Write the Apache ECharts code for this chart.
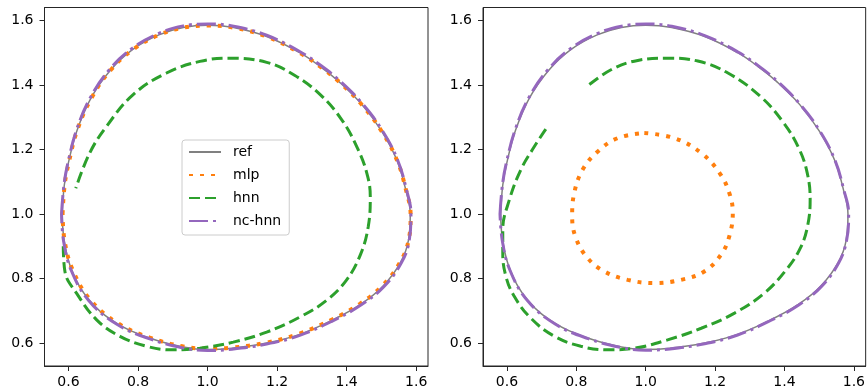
<!DOCTYPE html>
<html>
<head>
<meta charset="utf-8">
<script src="https://cdn.jsdelivr.net/npm/echarts@6/dist/echarts.min.js"></script>
<style>
  html, body { margin: 0; padding: 0; background: #fff; }
  #chart { width: 868px; height: 390px; }
</style>
</head>
<body>
<div id="chart"></div>
<script>
// tick labels shared by both panels
const xTicks = [0.6, 0.8, 1.0, 1.2, 1.4, 1.6];
const yTicks = [0.6, 0.8, 1.0, 1.2, 1.4, 1.6];

// reference orbit (same in both panels)
const refCurve = [
  [0.582, 1.00], [0.588, 1.09], [0.600, 1.16], [0.625, 1.26], [0.665, 1.36], [0.720, 1.445],
  [0.785, 1.51], [0.860, 1.555], [0.930, 1.578], [1.000, 1.585], [1.075, 1.578], [1.170, 1.55],
  [1.265, 1.50], [1.324, 1.457], [1.377, 1.411], [1.444, 1.339], [1.501, 1.256], [1.544, 1.168],
  [1.570, 1.075], [1.583, 1.00], [1.578, 0.92], [1.555, 0.85], [1.505, 0.777], [1.440, 0.72],
  [1.360, 0.672], [1.265, 0.627], [1.170, 0.600], [1.070, 0.584], [1.000, 0.580], [0.930, 0.588],
  [0.835, 0.615], [0.740, 0.66], [0.660, 0.733], [0.610, 0.825], [0.588, 0.915], [0.582, 1.00]
];

// left panel
const mlpLeft = [
  [0.583, 1.00], [0.589, 1.09], [0.601, 1.16], [0.626, 1.262], [0.667, 1.361], [0.722, 1.447],
  [0.787, 1.511], [0.862, 1.556], [0.932, 1.578], [1.003, 1.584], [1.077, 1.577], [1.172, 1.549],
  [1.267, 1.498], [1.326, 1.455], [1.379, 1.409], [1.445, 1.337], [1.502, 1.254], [1.545, 1.166],
  [1.571, 1.073], [1.584, 0.998], [1.578, 0.918], [1.553, 0.849], [1.503, 0.778], [1.437, 0.721],
  [1.358, 0.673], [1.263, 0.629], [1.168, 0.601], [1.070, 0.586], [0.998, 0.583], [0.928, 0.59],
  [0.834, 0.617], [0.741, 0.662], [0.662, 0.735], [0.612, 0.827], [0.589, 0.916], [0.583, 1.00]
];
const hnnLeft = [
  [0.585, 0.90], [0.590, 0.82], [0.623, 0.755], [0.681, 0.672], [0.748, 0.621], [0.825, 0.59],
  [0.900, 0.579], [0.978, 0.584], [1.074, 0.603], [1.170, 0.634], [1.266, 0.681], [1.343, 0.733],
  [1.400, 0.796], [1.440, 0.875], [1.462, 0.96], [1.468, 1.054], [1.458, 1.127], [1.429, 1.209],
  [1.386, 1.292], [1.324, 1.37], [1.250, 1.43], [1.170, 1.47], [1.064, 1.483], [0.978, 1.473],
  [0.882, 1.437], [0.786, 1.37], [0.709, 1.271], [0.661, 1.189], [0.621, 1.08]
];
const ncLeft = [
  [0.580, 1.00], [0.587, 1.09], [0.599, 1.162], [0.624, 1.263], [0.664, 1.363], [0.719, 1.449],
  [0.784, 1.514], [0.860, 1.56], [0.930, 1.583], [1.000, 1.589], [1.075, 1.582], [1.170, 1.554],
  [1.266, 1.503], [1.326, 1.46], [1.379, 1.414], [1.446, 1.341], [1.503, 1.258], [1.546, 1.169],
  [1.572, 1.076], [1.585, 1.00], [1.580, 0.918], [1.557, 0.848], [1.507, 0.775], [1.441, 0.718],
  [1.360, 0.669], [1.265, 0.624], [1.170, 0.597], [1.070, 0.581], [1.000, 0.577], [0.930, 0.585],
  [0.834, 0.613], [0.738, 0.659], [0.658, 0.732], [0.608, 0.825], [0.586, 0.915], [0.580, 1.00]
];

// right panel
const mlpRight = [
  [0.996, 1.251], [1.083, 1.235], [1.160, 1.189], [1.213, 1.127], [1.241, 1.065], [1.251, 1.003],
  [1.241, 0.931], [1.217, 0.874], [1.169, 0.822], [1.102, 0.796], [1.025, 0.786], [0.948, 0.796],
  [0.881, 0.822], [0.833, 0.863], [0.799, 0.925], [0.788, 0.993], [0.794, 1.065], [0.818, 1.137],
  [0.862, 1.194], [0.919, 1.235], [0.996, 1.251]
];
const hnnRight = [
  [0.712, 1.263], [0.679, 1.209], [0.640, 1.137], [0.607, 1.044], [0.588, 0.951], [0.588, 0.879],
  [0.597, 0.807], [0.621, 0.745], [0.669, 0.677], [0.737, 0.621], [0.813, 0.59], [0.890, 0.579],
  [0.967, 0.584], [1.063, 0.61], [1.160, 0.646], [1.256, 0.693], [1.342, 0.755], [1.405, 0.827],
  [1.446, 0.895], [1.467, 0.965], [1.474, 1.045], [1.466, 1.125], [1.443, 1.20], [1.398, 1.282],
  [1.331, 1.364], [1.237, 1.437], [1.150, 1.474], [1.063, 1.483], [0.977, 1.476], [0.900, 1.447],
  [0.828, 1.393]
];
const ncRight = [
  [0.580, 1.00], [0.587, 1.09], [0.599, 1.162], [0.624, 1.262], [0.664, 1.362], [0.719, 1.448],
  [0.784, 1.513], [0.860, 1.559], [0.930, 1.582], [1.000, 1.589], [1.075, 1.582], [1.170, 1.553],
  [1.266, 1.502], [1.325, 1.459], [1.378, 1.413], [1.445, 1.34], [1.502, 1.257], [1.545, 1.168],
  [1.571, 1.075], [1.585, 1.00], [1.579, 0.918], [1.556, 0.848], [1.506, 0.775], [1.441, 0.718],
  [1.360, 0.67], [1.265, 0.625], [1.170, 0.598], [1.070, 0.582], [1.000, 0.578], [0.930, 0.586],
  [0.834, 0.614], [0.739, 0.659], [0.659, 0.732], [0.609, 0.825], [0.587, 0.915], [0.580, 1.00]
];

const FONT = 'DejaVu Sans';
const AXIS = '#262626';

function makeX(idx) {
  return {
    gridIndex: idx, type: 'value', min: 0.531, max: 1.634,
    axisLine: { show: true, onZero: false, lineStyle: { color: AXIS, width: 1 } },
    axisTick: { show: true, length: 5, lineStyle: { color: AXIS }, customValues: xTicks },
    axisLabel: {
      customValues: xTicks, margin: 9, color: '#000', fontSize: 14, fontFamily: FONT,
      formatter: v => v.toFixed(1)
    },
    splitLine: { show: false }
  };
}
function makeY(idx) {
  return {
    gridIndex: idx, type: 'value', min: 0.529, max: 1.640,
    axisLine: { show: true, onZero: false, lineStyle: { color: AXIS, width: 1 } },
    axisTick: { show: true, length: 5, lineStyle: { color: AXIS }, customValues: yTicks },
    axisLabel: {
      customValues: yTicks, margin: 11, color: '#000', fontSize: 14, fontFamily: FONT,
      formatter: v => v.toFixed(1)
    },
    splitLine: { show: false }
  };
}

const styles = {
  ref: { color: '#808080', width: 1.5, type: 'solid' },
  mlp: { color: '#ff7f0e', width: 4, type: [4, 7] },
  hnn: { color: '#2ca02c', width: 3, type: [11, 5] },
  'nc-hnn': { color: '#9467bd', width: 3, type: [19, 5, 3, 5] }
};

function line(name, data, idx) {
  const s = styles[name];
  return {
    name: name, type: 'line', data: data,
    xAxisIndex: idx, yAxisIndex: idx,
    smooth: 0.4, symbol: 'none', showSymbol: false,
    color: s.color,
    lineStyle: { color: s.color, width: s.width, type: s.type, cap: 'butt' },
    z: 2
  };
}

const chart = echarts.init(document.getElementById('chart'), null, { renderer: 'canvas' });
chart.setOption({
  animation: false,
  backgroundColor: '#fff',
  grid: [
    { left: 44.5, top: 7.5, width: 383.5, height: 358.5, show: true, borderColor: AXIS, borderWidth: 1, backgroundColor: 'transparent' },
    { left: 483, top: 7.5, width: 383, height: 358.5, show: true, borderColor: AXIS, borderWidth: 1, backgroundColor: 'transparent' }
  ],
  xAxis: [makeX(0), makeX(1)],
  yAxis: [makeY(0), makeY(1)],
  legend: {
    data: ['ref', 'mlp', 'hnn', 'nc-hnn'],
    orient: 'vertical', left: 182, top: 140,
    itemWidth: 32, itemHeight: 14, itemGap: 9,
    padding: [5, 8, 7, 6],
    backgroundColor: 'rgba(255,255,255,0.8)',
    borderColor: '#cccccc', borderWidth: 1, borderRadius: 3,
    itemStyle: { opacity: 0 },
    textStyle: { fontSize: 14, fontFamily: FONT, color: '#000', padding: [0, 0, 0, 7] },
    selectedMode: false
  },
  series: [
    line('ref', refCurve, 0),
    line('mlp', mlpLeft, 0),
    line('hnn', hnnLeft, 0),
    line('nc-hnn', ncLeft, 0),
    line('ref', refCurve, 1),
    line('mlp', mlpRight, 1),
    line('hnn', hnnRight, 1),
    line('nc-hnn', ncRight, 1)
  ]
});
</script>
</body>
</html>
